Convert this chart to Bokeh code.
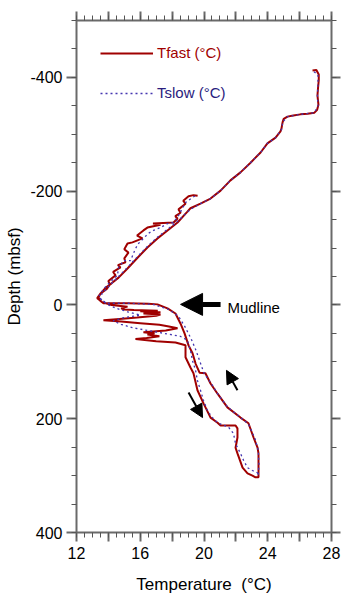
import numpy as np
from bokeh.plotting import figure
from bokeh.models import (Range1d, FixedTicker, LinearAxis, Legend, LegendItem,
                          Arrow, NormalHead, Label, CustomJSTickFormatter, CustomLabelingPolicy)
from bokeh.embed import file_html
from bokeh.resources import INLINE

# ---------------- data ----------------
tfast_temp = [26.81, 27.05, 27.2, 27.2, 27.15, 27.12, 27.18, 27.1, 26.93, 26.5, 26.05, 25.6, 25.24, 25.0,
              24.93, 24.86, 24.8, 24.49, 23.98, 23.55, 22.92, 22.29, 21.66, 21.04, 20.41, 19.78, 19.15,
              18.96, 18.34, 17.71, 17.08, 16.45, 15.83, 15.20, 14.64, 14.2, 13.82, 13.5, 13.38, 13.5, 13.69,
              15.2, 16.5, 17.08, 17.71, 18.21, 18.53, 18.78, 19.03, 19.28, 19.47, 19.72, 20.09, 20.41, 20.85,
              21.47, 22.29, 22.79, 23.11, 23.36, 23.42, 23.42, 23.42,
              23.23, 23.04, 22.73, 22.42, 22.10, 21.98, 22.10, 22.10, 21.98, 21.04, 20.85, 20.41, 19.97,
              19.59, 19.34, 19.15, 18.84, 18.84,
              18.21, 17.0, 15.7, 16.4, 17.2, 16.45, 16.9, 16.2, 17.6, 18.34, 17.8, 17.2, 16.0, 14.8, 13.69,
              14.5, 15.8, 17.0, 17.27, 16.2, 17.27, 16.0, 17.1, 15.6, 15.0, 14.8, 15.2, 14.2, 13.6, 13.3,
              13.5, 13.9,
              14.1, 14.0, 14.45, 14.3, 14.76, 14.6, 15.07, 15.0, 15.26, 15.0, 15.20, 15.51, 16.14, 15.8,
              16.20, 16.45, 17.27, 16.8, 18.09, 18.34, 18.2, 18.53, 18.4, 18.84, 18.7, 19.03, 19.34, 19.6]
tfast_depth = [-412, -413, -405, -395, -380, -368, -352, -343, -338, -336, -335, -333, -331, -327,
               -321, -310, -305, -294, -284, -268, -250, -233, -219, -201, -187, -178, -170,
               -164, -145, -131, -117, -101, -83, -64, -48, -38, -30, -20, -13, -7, -3,
               -3, -2, -1, 6, 15, 33, 50, 71, 85, 103, 119, 120, 138, 156,
               180, 198, 208, 233, 251, 261, 290, 303,
               303, 300, 296, 286, 261, 251, 233, 217, 212, 212, 207, 198, 173,
               150, 120, 110, 92, 71,
               66, 64, 60, 58, 55, 52, 50, 48, 45, 41, 38, 35, 32, 29, 27,
               25, 22, 19, 17, 15, 13, 11, 10, 9, 8, 6, 3, 0, -5, -12,
               -20, -28,
               -36, -42, -52, -58, -66, -70, -75, -82, -92, -98, -108, -110, -117, -122,
               -131, -136, -141, -143, -145, -152, -156, -162, -168, -178, -183, -191, -193, -192]

tslow_temp = [26.9, 27.15, 27.15, 27.12, 27.15, 26.93, 26.05, 25.24, 24.95, 24.86, 24.49, 23.98, 23.55,
              22.92, 22.29, 21.66, 21.04, 20.41, 19.78, 19.15, 18.34, 17.71, 17.08, 16.45, 15.83, 15.20,
              14.64, 14.1, 13.6, 13.5, 13.9,
              15.2, 16.8, 17.8, 18.4, 18.8, 19.2, 19.5, 19.75, 20.0, 20.5, 20.9, 21.5, 22.3, 22.8, 23.2,
              23.4, 23.45, 23.4,
              23.36, 23.04, 22.73, 22.48, 22.29, 21.98, 21.85, 21.54, 20.85, 20.53, 20.22, 19.97, 19.78,
              19.59, 19.47, 19.28, 19.15, 18.96,
              18.5, 17.5, 16.5, 15.5, 14.8, 14.3, 15.0, 16.0, 15.2, 14.5, 14.0, 13.6, 13.4, 13.7, 14.1,
              14.57, 14.64, 14.89, 14.95, 15.39, 15.70, 15.89, 16.20, 16.52, 16.83, 17.27, 17.71, 18.09,
              18.40, 18.65, 18.84, 19.28, 19.47]
tslow_depth = [-410, -405, -390, -368, -350, -338, -335, -331, -322, -308, -294, -284, -268,
               -250, -233, -219, -201, -187, -178, -168, -147, -133, -119, -103, -85, -66,
               -50, -35, -20, -10, -3,
               -3, -1, 8, 20, 38, 60, 80, 100, 120, 140, 158, 180, 198, 210, 235,
               255, 280, 300,
               295, 291, 286, 273, 261, 244, 226, 215, 207, 198, 186, 168, 150,
               133, 115, 98, 80, 62,
               55, 50, 45, 40, 34, 28, 22, 18, 12, 6, 0, -8, -15, -28, -40,
               -52, -66, -75, -78, -78, -99, -108, -117, -126, -131, -136, -143, -145,
               -157, -170, -180, -189, -192]

x_ticks = [12, 14, 16, 18, 20, 22, 24, 26, 28]
y_ticks = [-400, -200, 0, 200, 400]

# annotation arrows (temperature, depth)
mud_arrow = dict(x0=21.04, y0=-1, x1=18.53, y1=-1)
up_arrow = dict(x0=22.10, y0=150, x1=21.41, y1=115)
down_arrow = dict(x0=19.03, y0=154, x1=19.91, y1=198)

FONT = "Liberation Sans"
AX = "#6a6a6a"

p = figure(width=349, height=599, output_backend="svg", toolbar_location=None,
           x_range=Range1d(12, 28), y_range=Range1d(400, -500),
           x_axis_location=None, y_axis_location=None,
           min_border_left=76, min_border_right=18, min_border_top=20, min_border_bottom=67)
p.outline_line_color = None
p.xgrid.visible = False
p.ygrid.visible = False
p.background_fill_color = "white"

xtick = FixedTicker(ticks=x_ticks, minor_ticks=list(np.arange(12, 28.01, 0.5)))
ytick = FixedTicker(ticks=y_ticks, minor_ticks=list(range(-500, 401, 50)))

keep_even = CustomLabelingPolicy(code="""
for (let i = 0; i < indices.size; i++) { if (i % 2 == 1) indices.unset(i) }
return indices
""")
plain = CustomJSTickFormatter(code="return tick.toString();")


def hidden_policy():
    return CustomLabelingPolicy(code="""
for (let i = 0; i < indices.size; i++) { indices.unset(i) }
return indices
""")


def style(ax):
    ax.axis_line_color = AX
    ax.axis_line_width = 2
    ax.major_tick_line_color = AX
    ax.minor_tick_line_color = "#555555"
    ax.major_tick_line_width = 2
    ax.minor_tick_line_width = 1
    ax.major_tick_in = 0
    ax.minor_tick_in = 0
    ax.major_tick_out = 9
    ax.minor_tick_out = 5
    ax.major_label_text_font = FONT
    ax.major_label_text_color = "black"
    ax.major_label_text_font_size = "16px"
    ax.axis_label_text_font = FONT
    ax.axis_label_text_font_style = "normal"
    ax.axis_label_text_color = "black"
    ax.axis_label_text_font_size = "17px"


def hide_labels(ax):
    ax.formatter = CustomJSTickFormatter(code="return '';")
    ax.major_label_policy = hidden_policy()
    ax.major_label_text_font_size = "1px"
    ax.major_label_standoff = 0


bottom = LinearAxis(ticker=xtick, axis_label="Temperature\u00a0\u00a0(°C)", formatter=plain,
                    major_label_policy=keep_even)
style(bottom)
bottom.major_label_standoff = 5
bottom.axis_label_standoff = 13
top = LinearAxis(ticker=xtick)
style(top)
hide_labels(top)
left = LinearAxis(ticker=ytick, axis_label="Depth (mbsf)", formatter=plain)
style(left)
left.major_tick_out = 10
left.major_label_standoff = 4
left.axis_label_standoff = 3
right = LinearAxis(ticker=ytick)
style(right)
hide_labels(right)

p.add_layout(bottom, "below")
p.add_layout(top, "above")
p.add_layout(left, "left")
p.add_layout(right, "right")

r_fast = p.line(tfast_temp, tfast_depth, line_color="#a00000", line_width=2)
r_slow = p.line(tslow_temp, tslow_depth, line_color="#4536b0", line_width=1.3, line_dash="2 3")

for item, color, loc in [(LegendItem(label="Tfast (°C)", renderers=[r_fast]), "#a00000", (24, 471)),
                         (LegendItem(label="Tslow (°C)", renderers=[r_slow]), "#2a1c7e", (24, 431))]:
    lg = Legend(items=[item], location=loc, glyph_width=53, glyph_height=16, label_standoff=4,
                padding=0, margin=0, spacing=0, border_line_color=None, background_fill_alpha=0,
                label_text_font=FONT, label_text_font_size="15px", label_text_color=color)
    p.add_layout(lg, "center")

p.add_layout(Arrow(end=NormalHead(size=22, fill_color="black", line_color="black"),
                   x_start=mud_arrow["x0"], y_start=mud_arrow["y0"],
                   x_end=mud_arrow["x1"], y_end=mud_arrow["y1"], line_width=5, line_color="black"))
for a in (up_arrow, down_arrow):
    p.add_layout(Arrow(end=NormalHead(size=13, fill_color="black", line_color="black"),
                       x_start=a["x0"], y_start=a["y0"], x_end=a["x1"], y_end=a["y1"],
                       line_width=2, line_color="black"))

p.add_layout(Label(x=21.47, y=4, text="Mudline", text_font=FONT, text_font_size="15px",
                   text_baseline="middle", text_color="black"))

open("out.html", "w").write(file_html(p, INLINE))
